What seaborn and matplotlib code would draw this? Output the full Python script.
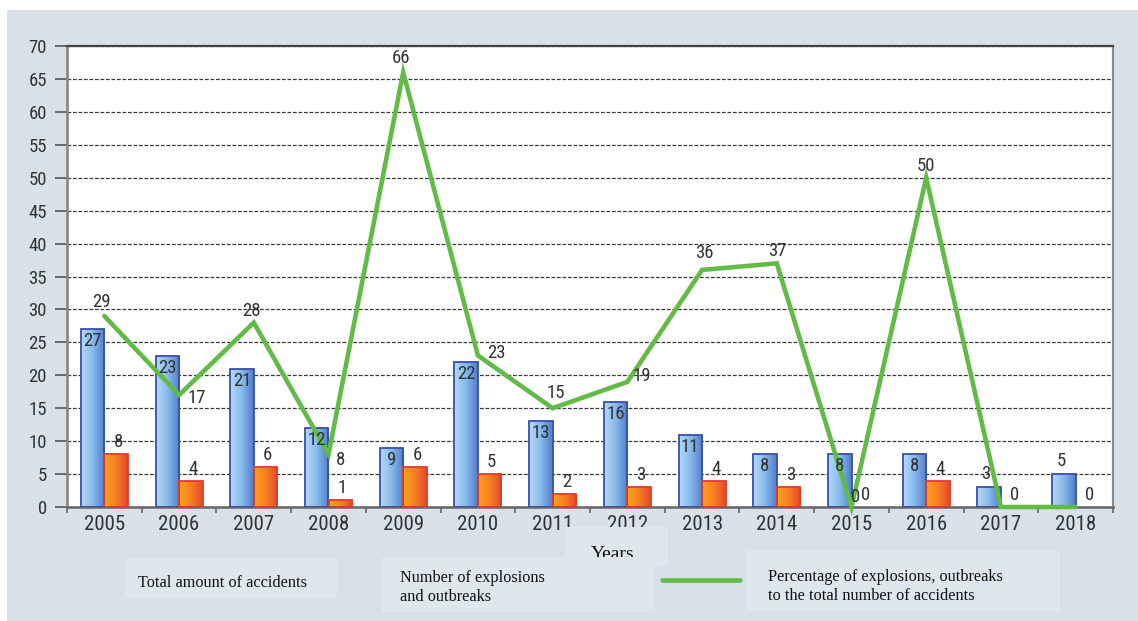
import numpy as np
import pandas as pd
import matplotlib
matplotlib.use("Agg")
import matplotlib.pyplot as plt
from matplotlib import font_manager as fm
from matplotlib.colors import LinearSegmentedColormap
from matplotlib.patches import Rectangle
from matplotlib.lines import Line2D
import seaborn as sns

# ---- data -------------------------------------------------------------
years = ["2005", "2006", "2007", "2008", "2009", "2010", "2011",
         "2012", "2013", "2014", "2015", "2016", "2017", "2018"]
total_accidents = [27, 23, 21, 12, 9, 22, 13, 16, 11, 8, 8, 8, 3, 5]
explosions = [8, 4, 6, 1, 6, 5, 2, 3, 4, 3, 0, 4, 0, 0]
explosion_share = [29, 17, 28, 8, 66, 23, 15, 19, 36, 37, 0, 50, 0, 0]
y_ticks = list(range(0, 75, 5))

series_total = "Total amount of accidents"
series_expl = "Number of explosions\nand outbreaks"
series_share = "Percentage of explosions, outbreaks\nto the total number of accidents"
axis_title = "Years"

# placement of the percentage labels (offset in pixels from the point)
share_label_offsets = [(-3, 5, "c", "b"), (8, -3, "l", "c"), (-2, 3, "c", "b"),
                       (7, -6, "l", "c"), (-2, 5, "c", "b"), (9, 3, "l", "c"),
                       (3, 6, "c", "b"), (5, 6, "l", "c"), (2, 8, "c", "b"),
                       (1, 3, "c", "b"), (4, 10, "c", "c"), (0, 3, "c", "b"),
                       None, None]

# ---- styling ----------------------------------------------------------
W, H = 1138, 621
sns.set_theme(style="white")

# condensed sans for the chart numbers: pick what the system offers
font_entries = fm.fontManager.ttflist
names = {f.name for f in font_entries}
stretch_kw = {}
if "Liberation Sans Narrow" in names:
    narrow = ["Liberation Sans Narrow", "DejaVu Sans"]
elif "Roboto Condensed" in names:
    narrow = ["Roboto Condensed", "DejaVu Sans"]
elif any(f.name == "DejaVu Sans" and str(f.stretch) in ("condensed", "semi-condensed", "75", "87")
         for f in font_entries):
    narrow = ["DejaVu Sans"]
    stretch_kw = {"fontstretch": "condensed"}
    plt.rcParams["font.stretch"] = "condensed"
else:
    narrow = ["Liberation Sans", "DejaVu Sans"]
serif = ["Liberation Serif", "DejaVu Serif"]
plt.rcParams["font.family"] = narrow

panel_bg = "#d8e0e8"
box_bg = "#dee6f0"
text_dark = "#333333"
green = "#62bb46"
blue_cmap = LinearSegmentedColormap.from_list("blue", ["#b4dcf8", "#86b8ea", "#4f7ccb"])
orange_cmap = LinearSegmentedColormap.from_list("orange", ["#fba21c", "#f57f25", "#e4482a"])
blue_edge = "#3b4ea8"
orange_edge = "#e23b2c"

fig = plt.figure(figsize=(W / 100, H / 100), dpi=100, facecolor="white")


def fx(px):
    return px / W


def fy(py):
    return 1 - py / H


# panel background
fig.patches.append(Rectangle((fx(7), 0), 1 - fx(7), fy(10), transform=fig.transFigure,
                             facecolor=panel_bg, edgecolor="none", zorder=0))

ax = fig.add_axes([fx(67), fy(507), fx(1113) - fx(67), fy(46) - fy(507)])
ax.set_facecolor("white")
ax.set_zorder(1)

df = pd.DataFrame({
    "year": years * 2,
    "value": total_accidents + explosions,
    "series": [series_total] * len(years) + [series_expl] * len(years),
})
sns.barplot(data=df, x="year", y="value", hue="series",
            palette=["#86b8ea", "#f57f25"], width=0.63, saturation=1,
            legend=False, ax=ax, zorder=2)

# gradient fill for each bar, clipped to the bar outline
grad = np.linspace(0, 1, 256).reshape(1, -1)
for container, cmap, edge in zip(ax.containers, [blue_cmap, orange_cmap],
                                 [blue_edge, orange_edge]):
    for patch in container.patches:
        x0, w, h = patch.get_x(), patch.get_width(), patch.get_height()
        if h <= 0:
            patch.set_visible(False)
            continue
        im = ax.imshow(grad, extent=[x0, x0 + w, 0, h], aspect="auto",
                       cmap=cmap, zorder=2.5, interpolation="bilinear")
        im.set_clip_path(patch)
        patch.set_facecolor("none")
        patch.set_edgecolor(edge)
        patch.set_linewidth(1.3)
        patch.set_zorder(2.6)

label_kw = dict(fontsize=13.5, color=text_dark, zorder=6, family=narrow, **stretch_kw)

# value labels on bars
for patch, v in zip(ax.containers[0].patches, total_accidents):
    cx = patch.get_x() + patch.get_width() / 2
    if v >= 8:
        ax.annotate(str(v), (cx, v), xytext=(0, -3), textcoords="offset pixels",
                    ha="center", va="top", **label_kw)
    else:
        ax.annotate(str(v), (cx - 0.04, v), xytext=(0, 4), textcoords="offset pixels",
                    ha="center", va="bottom", **label_kw)
for patch, v in zip(ax.containers[1].patches, explosions):
    cx = patch.get_x() + patch.get_width() / 2
    ax.annotate(str(v), (cx, v), xytext=(2, 3), textcoords="offset pixels",
                ha="center", va="bottom", **label_kw)

# percentage line
pos = np.arange(len(years))
sns.lineplot(x=pos, y=explosion_share, color=green, linewidth=3.3, ax=ax,
             zorder=5, clip_on=False, solid_joinstyle="miter")
ha_map = {"c": "center", "l": "left"}
va_map = {"b": "bottom", "c": "center"}
for xi, v, off in zip(pos, explosion_share, share_label_offsets):
    if off is None:
        continue
    dx, dy, ha, va = off
    ax.annotate(str(v), (xi, v), xytext=(dx, dy), textcoords="offset pixels",
                ha=ha_map[ha], va=va_map[va], **label_kw)

# axes, ticks, grid
ax.set_xlim(-0.5, len(years) - 0.5)
ax.set_ylim(0, 70)
ax.set_yticks(y_ticks)
ax.set_xlabel("")
ax.set_ylabel("")
ax.set_axisbelow(True)
ax.yaxis.grid(True, linestyle=(0, (3, 1.4)), color="#3a3a3a", linewidth=0.9)
ax.xaxis.grid(False)
ax.set_xticks(np.arange(-0.5, len(years)), minor=True)
ax.tick_params(axis="y", left=True, length=8.5, width=1.2, color="#555555",
               pad=6, labelsize=13.5, labelcolor=text_dark)
ax.tick_params(axis="x", which="major", bottom=True, length=0, pad=6,
               labelsize=15, labelcolor=text_dark)
ax.tick_params(axis="x", which="minor", bottom=True, length=4, width=1.2,
               color="#666666")
for side, col, lw in [("left", "#8a8a8a", 2.0), ("bottom", "#666666", 1.8),
                      ("top", "#444444", 1.6), ("right", "#8a8a8a", 1.6)]:
    ax.spines[side].set_visible(True)
    ax.spines[side].set_color(col)
    ax.spines[side].set_linewidth(lw)


# ---- legend area ------------------------------------------------------
def box(x0, y0, x1, y1, z):
    fig.patches.append(Rectangle((fx(x0), fy(y1)), fx(x1) - fx(x0), fy(y0) - fy(y1),
                                 transform=fig.transFigure, facecolor=box_bg,
                                 edgecolor="none", zorder=z))


def swatch(x0, y0, x1, y1, cmap, edge):
    sax = fig.add_axes([fx(x0), fy(y1), fx(x1) - fx(x0), fy(y0) - fy(y1)])
    sax.imshow(grad, aspect="auto", cmap=cmap, interpolation="bilinear")
    sax.set_xticks([])
    sax.set_yticks([])
    for s in sax.spines.values():
        s.set_visible(True)
        s.set_color(edge)
        s.set_linewidth(1.3)


# axis title box (its lower part is covered by the next legend box)
box(566, 527, 668, 565, 1)
fig.text(fx(613), fy(559), axis_title, ha="center", va="baseline",
         fontsize=14, family=serif, color="#111111", zorder=1.5)

box(125, 559, 337, 597, 2)
box(382, 557, 655, 612, 2)
box(746, 551, 1060, 611, 2)

swatch(75, 574, 110, 587, blue_cmap, blue_edge)
swatch(347, 573, 377, 587, orange_cmap, orange_edge)
fig.lines.append(Line2D([fx(662), fx(740)], [fy(580), fy(580)], transform=fig.transFigure,
                        color=green, linewidth=3.3, zorder=3))

fig.text(fx(138), fy(587), series_total, ha="left", va="baseline",
         fontsize=11.7, family=serif, color="#111111", zorder=3)
# multi-line texts: baseline alignment refers to the last line
fig.text(fx(400), fy(601), series_expl, ha="left", va="baseline",
         fontsize=11.7, family=serif, color="#111111", zorder=3, linespacing=1.25)
fig.text(fx(768), fy(600), series_share, ha="left", va="baseline",
         fontsize=11.7, family=serif, color="#111111", zorder=3, linespacing=1.25)

fig.savefig("out.png", dpi=100, facecolor=fig.get_facecolor())
